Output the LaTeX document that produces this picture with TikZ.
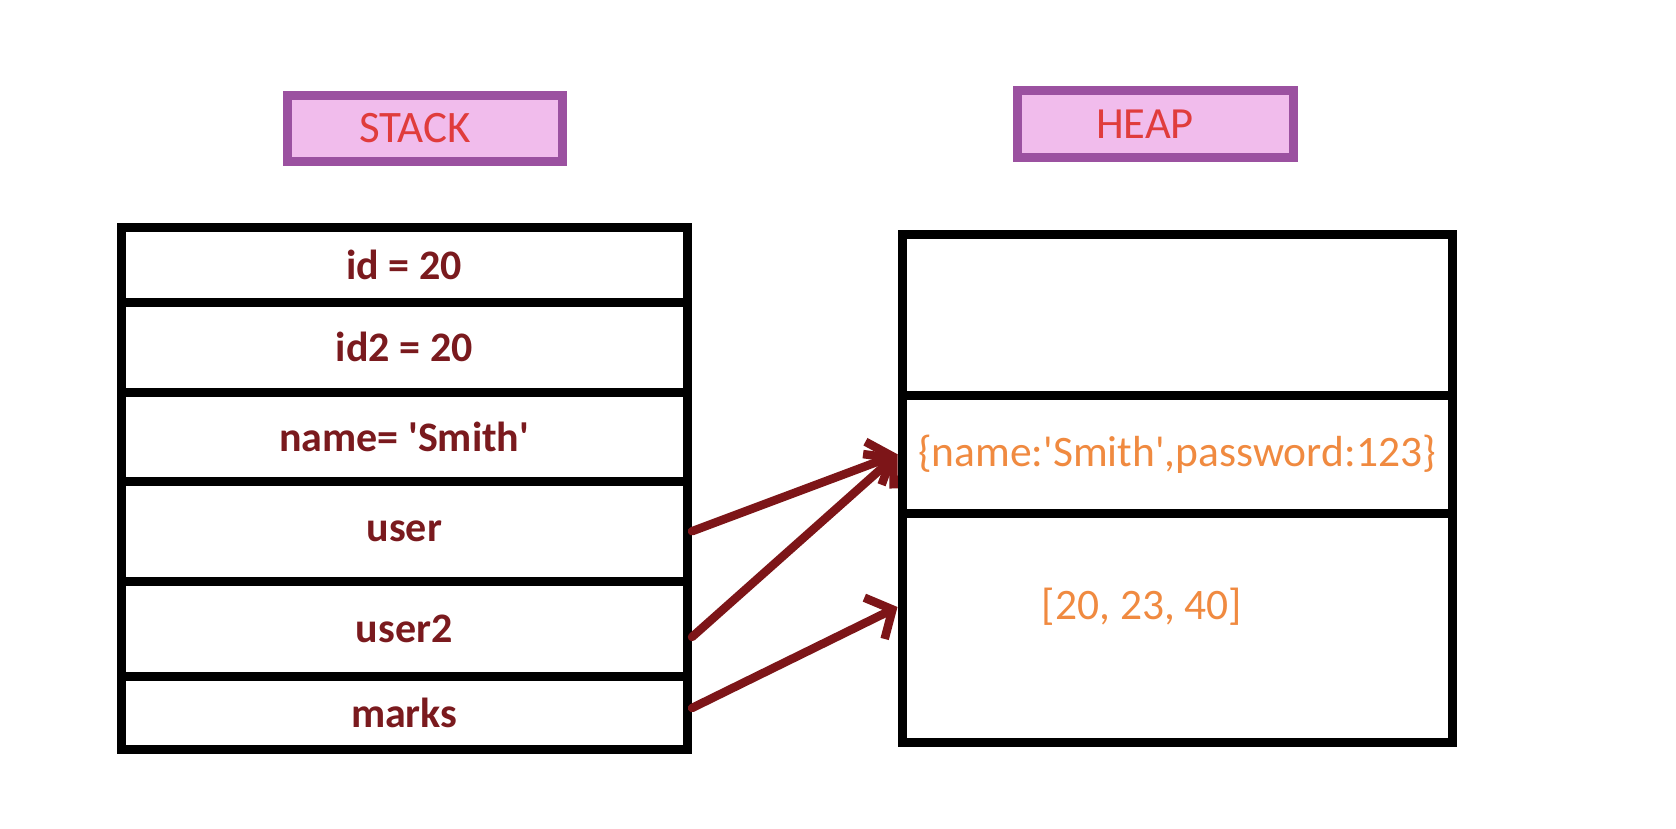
\documentclass[tikz,border=0pt]{standalone}
\usepackage{fontspec}
\setmainfont{Carlito}[Ligatures=TeXOff]
\usetikzlibrary{arrows.meta}
\definecolor{hdrfill}{HTML}{F1BCEC}
\definecolor{hdrborder}{HTML}{9B51A0}
\definecolor{hdrtext}{HTML}{E03C3C}
\definecolor{stacktext}{HTML}{7A1A1E}
\definecolor{heaptext}{HTML}{F08A40}
\definecolor{arrowc}{HTML}{7D1518}
\tikzset{
  hdr/.style={draw=hdrborder, fill=hdrfill, line width=9pt, minimum width=275pt, minimum height=66pt, inner sep=0pt, text=hdrtext, font=\fontsize{45}{54}\selectfont},
  srow/.style={draw=black, line width=9pt, inner sep=0pt, minimum width=566.5pt, text=stacktext, font=\bfseries\fontsize{42}{50}\selectfont},
  hcell/.style={draw=black, line width=9pt, inner sep=0pt, minimum width=550pt, text=heaptext, font=\fontsize{43.5}{52}\selectfont},
  ptr/.style={draw=arrowc, line width=8.5pt, line cap=round, -{Straight Barb[length=20pt,width=46pt]}}
}
\begin{document}
\begin{tikzpicture}[x=1pt,y=-1pt]
\fill[white] (0,0) rectangle (1676,828);
\useasboundingbox (0,0) rectangle (1676,828);
% headers
\node[hdr] (stackhdr) at (425,128) {STACK\rule{20pt}{0pt}};
\node[hdr, minimum height=66.7pt, minimum width=276pt, font=\fontsize{44.5}{53}\selectfont] (heaphdr) at (1155,123.9) {HEAP\rule{20pt}{0pt}};
% stack rows
\node[srow, minimum height=75pt]   (id)    at (404.25,264.5)  {id = 20};
\node[srow, minimum height=90pt]   (id2)   at (404.25,347)    {id2 = 20};
\node[srow, minimum height=89.5pt] (name)  at (404.25,436.75) {name= 'Smith'};
\node[srow, minimum height=99.5pt] (user)  at (404.25,531.25) {user};
\node[srow, minimum height=95pt]   (user2) at (404.25,628.5)  {user2};
\node[srow, minimum height=73.5pt] (marks) at (404.25,712.75) {marks};
% heap cells
\node[hcell, minimum height=161.5pt] (htop) at (1177,314.75) {};
\node[hcell, minimum height=117.5pt] (obj)  at (1177,454.25) {\{name:'Smith',password:123\}};
\node[hcell, minimum height=229pt]   (arr)  at (1177,627.5)  {};
\node[text=heaptext, font=\fontsize{43.5}{52}\selectfont, inner sep=0pt] (arrlbl) at (1142,607) {[20, 23, 40]};
% pointers
\draw[ptr] (user.east) -- (obj.west);
\draw[ptr] ([yshift=-8.5pt]user2.east) -- (obj.west);
\draw[ptr] ([yshift=4.75pt]marks.east) -- ([yshift=20.5pt]arr.west);
\end{tikzpicture}
\end{document}
